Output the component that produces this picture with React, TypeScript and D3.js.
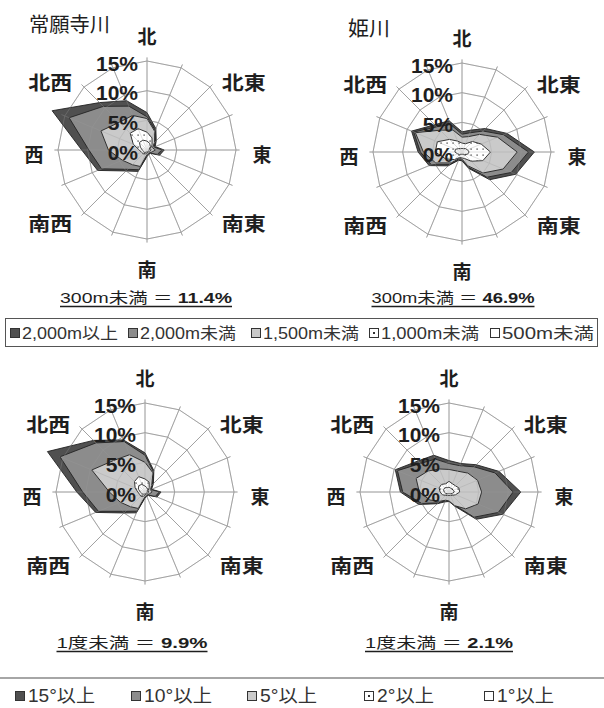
import React from 'react';
import * as d3 from 'd3';

// ---------------- data ----------------
// 16 directions, clockwise from north
const DIRS = ['N', 'NNE', 'NE', 'ENE', 'E', 'ESE', 'SE', 'SSE', 'S', 'SSW', 'SW', 'WSW', 'W', 'WNW', 'NW', 'NNW'];
const DIR_LABELS = ['北', '', '北東', '', '東', '', '南東', '', '南', '', '南西', '', '西', '', '北西', ''];
const RING_VALUES = [5, 10, 15];
const TICK_VALUES = [0, 5, 10, 15];
const TICK_LABELS = ['0%', '5%', '10%', '15%'];

const ELEV_LEGEND = ['2,000m以上', '2,000m未満', '1,500m未満', '1,000m未満', '500m未満'];
const SLOPE_LEGEND = ['15°以上', '10°以上', '5°以上', '2°以上', '1°以上'];

const TITLES = ['常願寺川', '姫川'];
const SUB_PREFIX = ['300m未満 ＝ ', '300m未満 ＝ ', '1度未満 ＝ ', '1度未満 ＝ '];
const SUB_VALUE = ['11.4%', '46.9%', '9.9%', '2.1%'];

// 常願寺川 – elevation (cumulative %)
const JOGANJI_ELEV_2000_UP = [6.3, 3.9, 2.2, 1.5, 2.9, 2.3, 0.8, 0.8, 1.1, 3.9, 5.0, 9.0, 11.0, 17.3, 11.3, 9.0];
const JOGANJI_ELEV_2000 = [5.6, 3.6, 2.0, 1.3, 2.5, 1.9, 0.7, 0.7, 1.0, 3.6, 4.6, 8.3, 9.8, 14.2, 10.4, 8.0];
const JOGANJI_ELEV_1500 = [5.3, 3.4, 1.8, 1.0, 1.4, 0.9, 0.6, 0.6, 0.8, 3.0, 3.5, 4.5, 6.5, 8.4, 6.6, 6.3];
const JOGANJI_ELEV_1000 = [3.0, 2.2, 1.2, 0.6, 0.7, 0.5, 0.4, 0.4, 0.5, 0.7, 0.9, 1.0, 1.3, 2.5, 4.0, 3.9];
const JOGANJI_ELEV_500 = [1.5, 1.2, 0.8, 0.4, 0.4, 0.3, 0.3, 0.3, 0.3, 0.4, 0.6, 0.6, 0.8, 1.2, 1.8, 1.8];

// 姫川 – elevation
const HIME_ELEV_2000_UP = [3.4, 4.0, 5.6, 8.2, 12.2, 9.8, 6.6, 3.0, 1.5, 1.5, 3.3, 6.0, 7.4, 9.2, 6.5, 5.7];
const HIME_ELEV_2000 = [3.0, 3.5, 5.0, 7.6, 11.2, 9.0, 6.0, 2.8, 1.4, 1.4, 3.0, 5.6, 7.0, 8.8, 6.0, 5.0];
const HIME_ELEV_1500 = [2.5, 2.8, 4.2, 6.5, 9.3, 7.5, 5.0, 2.5, 1.2, 1.2, 2.6, 4.8, 6.5, 8.5, 5.2, 4.0];
const HIME_ELEV_1000 = [1.5, 1.5, 2.5, 3.5, 4.8, 3.8, 2.2, 1.2, 1.0, 1.0, 1.8, 3.0, 4.5, 4.5, 3.0, 2.0];
const HIME_ELEV_500 = [0.6, 0.6, 0.8, 1.0, 1.2, 1.0, 0.6, 0.4, 0.4, 0.4, 0.6, 0.8, 1.2, 1.2, 0.8, 0.6];

// 常願寺川 – slope
const JOGANJI_SLOPE_15 = [6.6, 3.9, 2.0, 1.2, 2.7, 2.2, 0.8, 0.8, 1.0, 3.8, 5.0, 9.0, 11.5, 17.8, 12.3, 9.5];
const JOGANJI_SLOPE_10 = [6.2, 3.7, 1.8, 1.1, 2.4, 1.9, 0.7, 0.7, 0.9, 3.5, 4.6, 8.5, 10.5, 15.5, 11.7, 9.2];
const JOGANJI_SLOPE_5 = [5.0, 3.5, 1.6, 1.0, 1.2, 0.8, 0.6, 0.6, 0.8, 3.0, 3.5, 4.5, 6.0, 9.7, 7.5, 6.8];
const JOGANJI_SLOPE_2 = [2.2, 1.8, 1.0, 0.6, 0.6, 0.5, 0.4, 0.4, 0.5, 0.8, 1.0, 1.0, 1.2, 1.8, 2.5, 2.8];
const JOGANJI_SLOPE_1 = [1.0, 0.8, 0.6, 0.4, 0.4, 0.3, 0.3, 0.3, 0.3, 0.4, 0.5, 0.6, 0.8, 1.2, 1.5, 1.4];

// 姫川 – slope
const HIME_SLOPE_15 = [5.3, 5.2, 6.5, 9.1, 12.1, 9.8, 6.5, 2.6, 1.6, 1.8, 2.8, 5.5, 8.2, 9.8, 7.4, 6.7];
const HIME_SLOPE_10 = [4.8, 4.8, 6.0, 8.4, 10.8, 9.0, 6.0, 2.4, 1.5, 1.6, 2.6, 5.0, 7.8, 9.4, 6.8, 6.0];
const HIME_SLOPE_5 = [3.8, 3.8, 4.5, 5.2, 5.5, 5.3, 4.0, 2.5, 1.5, 1.5, 2.2, 3.5, 5.0, 6.0, 5.0, 4.2];
const HIME_SLOPE_2 = [1.8, 1.5, 1.5, 1.8, 1.8, 1.2, 0.8, 0.6, 0.6, 0.6, 0.8, 1.2, 1.5, 1.8, 1.8, 1.5];
const HIME_SLOPE_1 = [0.8, 0.7, 0.7, 0.8, 0.9, 0.6, 0.4, 0.3, 0.3, 0.3, 0.4, 0.6, 0.8, 1.0, 1.0, 0.8];

// ---------------- styles / layout ----------------
const FILLS = ['#505050', '#8c8c8c', '#cacaca', 'url(#dots)', '#ffffff'];
const INK = '#1e1e1e';
const GRID = '#9c9c9c';
const FONT_LATIN = '"Liberation Sans", Arial, "Noto Sans CJK JP", sans-serif';
const FONT_CJK = '"Noto Sans CJK JP", "Liberation Sans", sans-serif';
const R15 = 89;

const CHARTS = [
  { cx: 147, cy: 150, title: TITLES[0], tx: 29, ty: 23, tw: 81, subX: 146, subY: 303, subW: 172,
    series: [JOGANJI_ELEV_2000_UP, JOGANJI_ELEV_2000, JOGANJI_ELEV_1500, JOGANJI_ELEV_1000, JOGANJI_ELEV_500] },
  { cx: 462, cy: 152, title: TITLES[1], tx: 348, ty: 27, tw: 42, subX: 453, subY: 303, subW: 163,
    series: [HIME_ELEV_2000_UP, HIME_ELEV_2000, HIME_ELEV_1500, HIME_ELEV_1000, HIME_ELEV_500] },
  { cx: 145, cy: 492, title: '', tx: 0, ty: 0, tw: 0, subX: 132, subY: 648, subW: 151,
    series: [JOGANJI_SLOPE_15, JOGANJI_SLOPE_10, JOGANJI_SLOPE_5, JOGANJI_SLOPE_2, JOGANJI_SLOPE_1] },
  { cx: 449, cy: 492, title: '', tx: 0, ty: 0, tw: 0, subX: 439, subY: 648, subW: 148,
    series: [HIME_SLOPE_15, HIME_SLOPE_10, HIME_SLOPE_5, HIME_SLOPE_2, HIME_SLOPE_1] },
];

const LEGEND1_X = [10, 128, 251, 369, 490];
const LEGEND1_W = [96, 96, 96, 98, 92];
const LEGEND2_X = [15, 131, 247, 364, 484];
const LEGEND2_W = [67, 68, 57, 57, 57];

const r = d3.scaleLinear().domain([0, 15]).range([0, R15]);
const angleOf = (i: number) => (i * 2 * Math.PI) / DIRS.length;
const radial = d3
  .lineRadial<number>()
  .angle((_d, i) => angleOf(i))
  .radius((d) => r(d))
  .curve(d3.curveLinearClosed);

function labelPos(i: number) {
  const a = angleOf(i);
  const s = Math.sin(a);
  const c = Math.cos(a);
  const cardinal = i % 4 === 0;
  if (cardinal) {
    if (Math.abs(s) < 0.1) return { x: 0, y: c > 0 ? -115 : 118 };
    return { x: s > 0 ? 115 : -113, y: 3 };
  }
  return { x: s * 137, y: c > 0 ? -69 : 72 };
}

function Marker({ x, y, idx }: { x: number; y: number; idx: number }) {
  return (
    <g>
      <rect x={x + 0.5} y={y - 4.5} width={9} height={9} fill={FILLS[idx] === 'url(#dots)' ? '#fff' : FILLS[idx]} stroke="#333" strokeWidth={1} />
      {idx === 3 && <rect x={x + 4} y={y - 1} width={2} height={2} fill="#333" />}
    </g>
  );
}

function Grid({ opacity }: { opacity: number }) {
  const spokeEnd = r(15.6);
  return (
    <g opacity={opacity}>
      {RING_VALUES.map((v) => (
        <path key={v} d={radial(DIRS.map(() => v)) || ''} fill="none" stroke={GRID} strokeWidth={0.9} />
      ))}
      {DIRS.map((_d, i) => {
        const a = angleOf(i);
        return (
          <line key={i} x1={0} y1={0} x2={Math.sin(a) * spokeEnd} y2={-Math.cos(a) * spokeEnd} stroke={GRID} strokeWidth={0.9} />
        );
      })}
    </g>
  );
}

function Radar({ cfg, idx }: { cfg: (typeof CHARTS)[number]; idx: number }) {
  const { cx, cy } = cfg;
  return (
    <g>
      {cfg.title && (
        <text x={cfg.tx} y={cfg.ty} dominantBaseline="central" fontFamily={FONT_CJK} fontSize={20} fill={INK}
          textLength={cfg.tw} lengthAdjust="spacingAndGlyphs">
          {cfg.title}
        </text>
      )}
      <g transform={`translate(${cx},${cy})`}>
        <Grid opacity={1} />
        {cfg.series.map((vals, si) => (
          <path key={si} d={radial(vals) || ''} fill={FILLS[si]} stroke="#222" strokeWidth={0.9} strokeLinejoin="round" />
        ))}
        <Grid opacity={0.35} />
        {DIR_LABELS.map((lab, i) => {
          if (!lab) return null;
          const p = labelPos(i);
          return (
            <text key={i} x={p.x} y={p.y} textAnchor="middle" dominantBaseline="central" fontFamily={FONT_CJK}
              fontWeight="bold" fontSize={19} fill={INK}
              {...(lab.length > 1 ? { textLength: 44, lengthAdjust: 'spacingAndGlyphs' } : {})}>
              {lab}
            </text>
          );
        })}
        {TICK_VALUES.map((v, i) => (
          <text key={v} x={-9} y={-r(v) + 2} textAnchor="end" dominantBaseline="central" fontFamily={FONT_LATIN}
            fontWeight="bold" fontSize={21} fill={INK}>
            {TICK_LABELS[i]}
          </text>
        ))}
      </g>
      <text x={cfg.subX} y={cfg.subY} textAnchor="middle" fontFamily={FONT_LATIN} fontSize={15} fill={INK}
        textLength={cfg.subW} lengthAdjust="spacingAndGlyphs">
        {SUB_PREFIX[idx]}
        <tspan fontWeight="bold">{SUB_VALUE[idx]}</tspan>
      </text>
      <line x1={cfg.subX - cfg.subW / 2} x2={cfg.subX + cfg.subW / 2} y1={cfg.subY + 3.5} y2={cfg.subY + 3.5} stroke={INK} strokeWidth={1.3} />
    </g>
  );
}

export default function App() {
  return (
    <div style={{ position: 'absolute', left: 0, top: 0 }}>
      <svg width={604} height={708} viewBox="0 0 604 708" style={{ display: 'block', background: '#fff' }}>
        <defs>
          <pattern id="dots" width={6} height={6} patternUnits="userSpaceOnUse">
            <rect width={6} height={6} fill="#fff" />
            <rect x={2.5} y={2.5} width={1.2} height={1.2} fill="#222" />
          </pattern>
        </defs>
        <rect width={604} height={708} fill="#fff" />
        {CHARTS.map((c, i) => (
          <Radar key={i} cfg={c} idx={i} />
        ))}
        {/* legend 1 */}
        <rect x={5.5} y={318.5} width={592} height={28} fill="#fff" stroke="#555" strokeWidth={1} />
        {ELEV_LEGEND.map((t, i) => (
          <g key={t}>
            <Marker x={LEGEND1_X[i]} y={333} idx={i} />
            <text x={LEGEND1_X[i] + 12} y={333} dominantBaseline="central" fontFamily={FONT_LATIN} fontSize={16} fill="#333"
              textLength={LEGEND1_W[i]} lengthAdjust="spacingAndGlyphs">
              {t}
            </text>
          </g>
        ))}
        {/* legend 2 */}
        <line x1={0} x2={604} y1={678} y2={678} stroke="#888" strokeWidth={1.5} />
        {SLOPE_LEGEND.map((t, i) => (
          <g key={t}>
            <Marker x={LEGEND2_X[i]} y={696} idx={i} />
            <text x={LEGEND2_X[i] + 13} y={696} dominantBaseline="central" fontFamily={FONT_LATIN} fontSize={18} fill="#333"
              textLength={LEGEND2_W[i]} lengthAdjust="spacingAndGlyphs">
              {t}
            </text>
          </g>
        ))}
      </svg>
    </div>
  );
}
